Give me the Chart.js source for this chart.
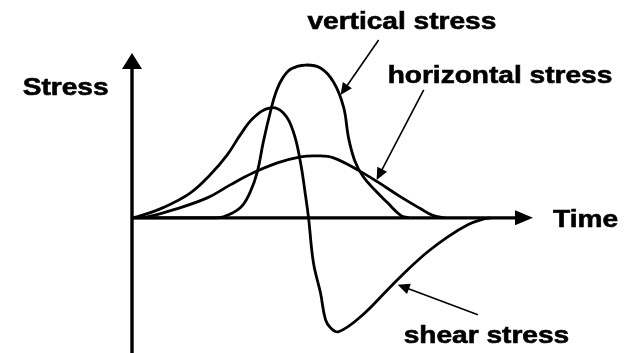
<!DOCTYPE html>
<html>
<head>
<meta charset="utf-8">
<script src="https://cdn.jsdelivr.net/npm/chart.js@4"></script>
<style>
    html, body { margin: 0; padding: 0; background: #fff; }
    #stress-chart { display: block; }
</style>
</head>
<body>
<canvas id="stress-chart" width="633" height="353"></canvas>
<script>
// time axis runs 0..100, stress in arbitrary units (0 = time axis)
const verticalTime = [0, 20, 22.75, 27, 29.5, 31.25, 32.75, 34.5, 36, 37.75, 39.75, 43.25, 47, 50.25, 52.75, 54, 55.5, 57.5, 60.5, 63.75, 67, 69];
const verticalStress = [0, 0, 0.06, 0.61, 1.58, 2.79, 4.61, 6.42, 7.7, 8.55, 9.05, 9.27, 9.09, 8.24, 6.73, 4.85, 3.5, 2.55, 1.7, 0.91, 0.15, 0];

const horizontalTime = [0, 3.75, 10.25, 18.75, 24.5, 30.25, 36.25, 42, 46.25, 50.25, 56.25, 61.25, 67, 72, 75, 78];
const horizontalStress = [0, 0.06, 0.48, 1.21, 2.0, 2.73, 3.33, 3.70, 3.76, 3.64, 2.91, 2.18, 1.27, 0.55, 0.15, 0];

const shearTime = [0, 1.25, 7.75, 14.5, 19.5, 23.75, 27, 30.25, 34.5, 37.75, 40.25, 42, 43.25, 44, 45.25, 47, 48.25, 49.5, 51.5, 57, 63.75, 68.75, 73.75, 78.75, 83.75, 87, 89.5];
const shearStress = [0, 0.06, 0.62, 1.5, 2.61, 3.82, 5.03, 6.06, 6.67, 6.36, 5.21, 3.39, 1.39, 0.06, -2.73, -4.55, -6.18, -6.67, -6.91, -6.0, -4.36, -3.15, -2.06, -1.15, -0.42, -0.12, 0];

const axisLabels = ['Stress', 'Time'];
const seriesLabels = ['vertical stress', 'horizontal stress', 'shear stress'];

const toPoints = (xs, ys) => xs.map((x, i) => ({x: x, y: ys[i]}));

function curve(label, xs, ys) {
    return {
        label: label,
        data: toPoints(xs, ys),
        borderColor: '#000',
        borderWidth: 2.8,
        pointRadius: 0,
        fill: false,
        tension: 0.4
    };
}

function arrowHead(ctx, x1, y1, x2, y2, len, half) {
    const a = Math.atan2(y2 - y1, x2 - x1);
    ctx.beginPath();
    ctx.moveTo(x2, y2);
    ctx.lineTo(x2 - len * Math.cos(a) + half * Math.sin(a), y2 - len * Math.sin(a) - half * Math.cos(a));
    ctx.lineTo(x2 - len * Math.cos(a) - half * Math.sin(a), y2 - len * Math.sin(a) + half * Math.cos(a));
    ctx.closePath();
    ctx.fill();
}

const sketchPlugin = {
    id: 'sketch',
    afterDatasetsDraw(chart) {
        const ctx = chart.ctx;
        const xs = chart.scales.x, ys = chart.scales.y;
        const px = v => xs.getPixelForValue(v);
        const py = v => ys.getPixelForValue(v);
        ctx.save();
        ctx.strokeStyle = '#000';
        ctx.fillStyle = '#000';

        // axes with arrows
        const x0 = px(0), y0 = py(0);
        ctx.lineWidth = 3.4;
        ctx.beginPath();
        ctx.moveTo(x0, py(ys.min));
        ctx.lineTo(x0, py(ys.max) + 12);
        ctx.moveTo(x0, y0);
        ctx.lineTo(px(xs.max) - 14, y0);
        ctx.stroke();
        arrowHead(ctx, x0, y0, x0, py(ys.max), 16, 10);
        arrowHead(ctx, x0, y0, px(xs.max), y0, 18, 7.5);

        // pointer arrows [from t, from s, to t, to s]
        const pointers = [[61.5, 10.79, 52, 7.45], [72.75, 7.76, 61, 2.3], [86.25, -5.88, 66.25, -4.06]];
        ctx.lineWidth = 1.6;
        pointers.forEach(p => {
            const fx = px(p[0]), fy = py(p[1]), tx = px(p[2]), ty = py(p[3]);
            const a = Math.atan2(ty - fy, tx - fx);
            ctx.beginPath();
            ctx.moveTo(fx, fy);
            ctx.lineTo(tx - 8 * Math.cos(a), ty - 8 * Math.sin(a));
            ctx.stroke();
            arrowHead(ctx, fx, fy, tx, ty, 12, 5.5);
        });

        // texts
        const texts = [
            [seriesLabels[0], 43.75, 11.45],
            [seriesLabels[1], 63.75, 8.18],
            [seriesLabels[2], 67.75, -7.58],
            [axisLabels[0], -27.25, 7.45],
            [axisLabels[1], 105, -0.55]
        ];
        ctx.font = 'bold 24px "Liberation Sans", Arial, sans-serif';
        ctx.textBaseline = 'alphabetic';
        ctx.textAlign = 'left';
        ctx.lineWidth = 0.6;
        texts.forEach(t => {
            ctx.save();
            ctx.translate(px(t[1]), py(t[2]));
            ctx.scale(1.17, 1);
            ctx.fillText(t[0], 0, 0);
            ctx.strokeText(t[0], 0, 0);
            ctx.restore();
        });
        ctx.restore();
    }
};

new Chart(document.getElementById('stress-chart').getContext('2d'), {
    type: 'line',
    data: {
        datasets: [
            curve(seriesLabels[0], verticalTime, verticalStress),
            curve(seriesLabels[1], horizontalTime, horizontalStress),
            curve(seriesLabels[2], shearTime, shearStress)
        ]
    },
    options: {
        responsive: false,
        devicePixelRatio: 1,
        animation: false,
        layout: {padding: {left: 132, right: 100, top: 53, bottom: 0}},
        plugins: {legend: {display: false}, tooltip: {enabled: false}},
        scales: {
            x: {type: 'linear', min: 0, max: 100, display: false},
            y: {type: 'linear', min: -8.2, max: 10, display: false}
        }
    },
    plugins: [sketchPlugin]
});
</script>
</body>
</html>
